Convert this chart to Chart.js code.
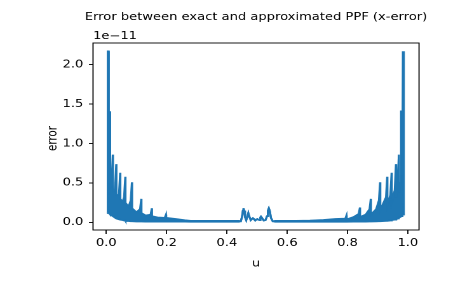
<!DOCTYPE html>
<html>
<head>
<meta charset="utf-8">
<script src="https://cdn.jsdelivr.net/npm/chart.js@4.4.1/dist/chart.umd.min.js"></script>
<style>
  html, body { margin: 0; padding: 0; background: #fff; overflow: hidden; }
  /* the reference is stretched sideways, so draw narrow and widen */
  #wrap { width: 366px; height: 288px; transform: scaleX(1.2705); transform-origin: 0 0; }
</style>
</head>
<body>
<div id="wrap"><canvas id="chart" width="366" height="288"></canvas></div>
<script>
// --- data (error in units of 1e-11) ---
const u = [
  0.0045, 0.0050, 0.0080, 0.0085, 0.0105, 0.0110, 0.0135, 0.0140,
  0.0175, 0.0215, 0.0222, 0.0290, 0.0330, 0.0337, 0.0420, 0.0460, 0.0467,
  0.0540, 0.0590, 0.0630, 0.0637, 0.0740, 0.0810, 0.0850, 0.0857,
  0.1000, 0.1120, 0.1160, 0.1167, 0.1300, 0.1470, 0.1510, 0.1517,
  0.1700, 0.1940, 0.1980, 0.1987, 0.2300, 0.2600,
  0.2800, 0.3500, 0.4400, 0.4460,
  0.4500, 0.4530, 0.4550, 0.4570, 0.4600, 0.4640, 0.4680, 0.4710, 0.4740,
  0.4790, 0.4830, 0.4860, 0.4890, 0.4940, 0.4980, 0.5010, 0.5040, 0.5080,
  0.5110, 0.5130, 0.5160, 0.5220, 0.5280, 0.5330, 0.5360, 0.5390, 0.5420,
  0.5460, 0.5520,
  0.5600, 0.6300, 0.6750, 0.7200, 0.7600,
  0.7925, 0.7965, 0.7972, 0.8200, 0.8370, 0.8410, 0.8417, 0.8600,
  0.8730, 0.8770, 0.8777, 0.8950, 0.9040, 0.9080, 0.9087,
  0.9275, 0.9315, 0.9322, 0.9420, 0.9460, 0.9467,
  0.9565, 0.9605, 0.9612, 0.9660, 0.9700, 0.9707,
  0.9750, 0.9775, 0.9800, 0.9805, 0.9830, 0.9835, 0.9865, 0.9870
];
// upper edge of the oscillating band
const errHigh = [
  0.13, 2.17, 2.17, 0.60, 0.60, 1.41, 1.41, 0.45,
  0.47, 0.86, 0.40, 0.41, 0.74, 0.35, 0.35, 0.63, 0.30,
  0.26, 0.32, 0.58, 0.25, 0.20, 0.28, 0.51, 0.18,
  0.13, 0.17, 0.30, 0.12, 0.09, 0.10, 0.18, 0.08,
  0.065, 0.06, 0.10, 0.06, 0.045, 0.03,
  0.022, 0.022, 0.022, 0.015,
  0.07, 0.15, 0.18, 0.15, 0.07, 0.03, 0.08, 0.12, 0.08,
  0.03, 0.045, 0.055, 0.045, 0.025, 0.04, 0.045, 0.035, 0.03,
  0.065, 0.075, 0.06, 0.025, 0.03, 0.08, 0.15, 0.18, 0.15,
  0.06, 0.015,
  0.022, 0.022, 0.025, 0.032, 0.045,
  0.05, 0.09, 0.04, 0.07, 0.11, 0.19, 0.07, 0.10,
  0.17, 0.30, 0.10, 0.17, 0.28, 0.51, 0.16,
  0.32, 0.58, 0.22, 0.35, 0.63, 0.27,
  0.41, 0.74, 0.32, 0.47, 0.86, 0.38,
  0.50, 1.41, 1.41, 0.60, 0.60, 2.17, 2.17, 0.12
];
// lower edge of the band (equal to the upper edge where the curve is a single line)
const errLow = [
  0.13, 0.12, 0.12, 0.12, 0.11, 0.11, 0.10, 0.10,
  0.09, 0.08, 0.08, 0.06, 0.05, 0.05, 0.04, 0.035, 0.035,
  0.03, 0.025, 0.025, 0.02, 0.018, 0.015, 0.015, 0.015,
  0.012, 0.012, 0.012, 0.012, 0.01, 0.01, 0.01, 0.01,
  0.01, 0.01, 0.01, 0.01, 0.01, 0.01,
  0.008, 0.008, 0.008, 0.015,
  0.07, 0.15, 0.18, 0.15, 0.07, 0.03, 0.08, 0.12, 0.08,
  0.03, 0.045, 0.055, 0.045, 0.025, 0.04, 0.045, 0.035, 0.03,
  0.065, 0.075, 0.06, 0.025, 0.03, 0.08, 0.15, 0.18, 0.15,
  0.06, 0.015,
  0.008, 0.008, 0.008, 0.008, 0.008,
  0.009, 0.009, 0.009, 0.01, 0.01, 0.01, 0.01, 0.01,
  0.012, 0.012, 0.012, 0.014, 0.015, 0.015, 0.015,
  0.02, 0.02, 0.02, 0.025, 0.025, 0.03,
  0.035, 0.035, 0.04, 0.05, 0.05, 0.06,
  0.07, 0.07, 0.08, 0.08, 0.09, 0.10, 0.11, 0.12
];
const xTicks = [0.0, 0.2, 0.4, 0.6, 0.8, 1.0];
const yTicks = [0.0, 0.5, 1.0, 1.5, 2.0];

const titleText = 'Error between exact and approximated PPF (x-error)';
const offsetText = '1e\u221211';
const blue = '#1f77b4';
const font = '"DejaVu Sans", sans-serif';

// title, offset text, axis labels and the four spines
const frame = {
  id: 'frame',
  afterDraw(chart) {
    const { ctx, chartArea: a } = chart;
    ctx.save();
    ctx.strokeStyle = '#000';
    ctx.lineWidth = 0.9;
    ctx.strokeRect(a.left, a.top, a.right - a.left, a.bottom - a.top);

    ctx.fillStyle = '#000';
    ctx.font = '10.3px ' + font;
    ctx.textBaseline = 'alphabetic';
    ctx.textAlign = 'center';
    ctx.fillText(titleText, (a.left + a.right) / 2, 19.8);
    ctx.fillText('u', (a.left + a.right) / 2, 266.5);
    ctx.textAlign = 'left';
    ctx.fillText(offsetText, a.left, 39);

    ctx.translate(44.6, 138.5);
    ctx.rotate(-Math.PI / 2);
    ctx.textAlign = 'center';
    ctx.fillText('error', 0, 0);
    ctx.restore();
  }
};

new Chart(document.getElementById('chart'), {
  type: 'line',
  data: {
    datasets: [
      {
        data: u.map((x, i) => ({ x: x, y: errLow[i] })),
        borderColor: blue,
        borderWidth: 1.6,
        pointRadius: 0,
        fill: false
      },
      {
        data: u.map((x, i) => ({ x: x, y: errHigh[i] })),
        borderColor: blue,
        backgroundColor: blue,
        borderWidth: 1.6,
        pointRadius: 0,
        fill: '-1'
      }
    ]
  },
  options: {
    responsive: false,
    animation: false,
    devicePixelRatio: 2,
    layout: { padding: { left: 0, right: 36.2, top: 43, bottom: 0 } },
    plugins: { legend: { display: false }, tooltip: { enabled: false } },
    scales: {
      x: {
        type: 'linear',
        min: -0.044,
        max: 1.037,
        afterFit: (s) => { s.height = 58; },
        afterBuildTicks: (s) => { s.ticks = xTicks.map(v => ({ value: v })); },
        border: { display: false },
        grid: { drawOnChartArea: false, drawTicks: true, tickLength: 4, color: '#000', lineWidth: 0.9 },
        ticks: {
          color: '#000',
          font: { family: font, size: 10.3 },
          padding: 3,
          maxRotation: 0,
          callback: (v) => v.toFixed(1)
        }
      },
      y: {
        type: 'linear',
        min: -0.095,
        max: 2.275,
        afterFit: (s) => { s.width = 73.2; },
        afterBuildTicks: (s) => { s.ticks = yTicks.map(v => ({ value: v })); },
        border: { display: false },
        grid: { drawOnChartArea: false, drawTicks: true, tickLength: 3.2, color: '#000', lineWidth: 0.9 },
        ticks: {
          color: '#000',
          font: { family: font, size: 10.3 },
          padding: 4.4,
          callback: (v) => v.toFixed(1)
        }
      }
    }
  },
  plugins: [frame]
});
</script>
</body>
</html>
